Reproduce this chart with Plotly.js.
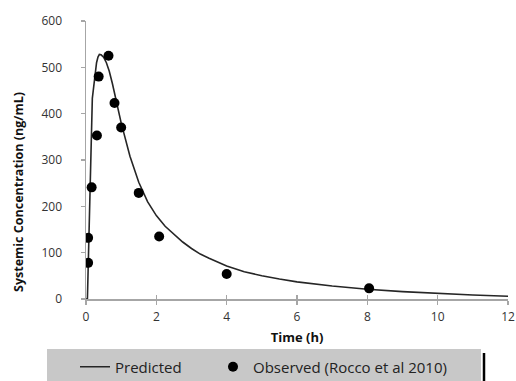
<!DOCTYPE html>
<html>
<head>
<meta charset="utf-8">
<script src="https://cdn.plot.ly/plotly-3.0.1.min.js"></script>
<style>html,body{margin:0;padding:0;background:#fff;}#chart{width:516px;height:381px;}</style>
</head>
<body>
<div id="chart"></div>
<script>
// Predicted concentration-time profile
const predTime = [0, 0.04, 0.18, 0.22, 0.26, 0.3, 0.34, 0.38, 0.43, 0.5, 0.58, 0.66, 0.75, 0.85, 1.0, 1.25, 1.5, 1.75, 2.0, 2.25, 2.5, 2.75, 3.0, 3.25, 3.5, 3.75, 4.0, 4.5, 5.0, 5.5, 6.0, 7.0, 8.0, 9.0, 10.0, 11.0, 12.0];
const predConc = [0, 0, 433, 460, 487, 510, 522, 528, 527, 522, 510, 492, 465, 430, 380, 308, 252, 210, 180, 157, 139, 123, 109, 97, 88, 79, 71, 59, 50, 43, 37, 28, 21, 16, 12, 8.5, 6];
// Observed (Rocco et al 2010)
const obsTime = [0.06, 0.06, 0.16, 0.31, 0.36, 0.64, 0.81, 1.0, 1.5, 2.08, 4.0, 8.05];
const obsConc = [78, 132, 241, 353, 480, 525, 423, 370, 229, 135, 54, 23];

const xTicks = [0, 2, 4, 6, 8, 10, 12];
const yTicks = [0, 100, 200, 300, 400, 500, 600];
const seriesNames = ['Predicted', 'Observed (Rocco et al 2010)'];
const xTitle = 'Time (h)';
const yTitle = 'Systemic Concentration (ng/mL)';

const FONT = 'Open Sans, Lato, sans-serif';
const axisColor = '#a6a6a6';

const traces = [
  {x: predTime, y: predConc, name: seriesNames[0], type: 'scatter', mode: 'lines',
   line: {color: '#262626', width: 1.6}, legend: 'legend'},
  {x: obsTime, y: obsConc, name: seriesNames[1], type: 'scatter', mode: 'markers',
   marker: {color: '#000', size: 10, symbol: 'circle'}, legend: 'legend2'},
  {x: [0], y: [0], xaxis: 'x2', yaxis: 'y', mode: 'markers', marker: {opacity: 0}, showlegend: false, hoverinfo: 'skip'}
];

const legendBase = {
  orientation: 'h', xref: 'container', yref: 'container',
  xanchor: 'left', y: 1 - 367 / 381, yanchor: 'middle',
  bgcolor: 'rgba(0,0,0,0)', borderwidth: 0,
  font: {family: FONT, size: 15, color: '#222'}
};

const layout = {
  width: 516, height: 381,
  margin: {l: 86, r: 8, t: 21, b: 82},
  paper_bgcolor: '#fff', plot_bgcolor: '#fff',
  font: {family: FONT, size: 12, color: '#333'},
  showlegend: true,
  xaxis: {
    range: [0, 12], tickvals: xTicks, ticktext: xTicks.map(String),
    showgrid: false, zeroline: false, showline: true, linecolor: axisColor, linewidth: 1.5,
    ticks: 'outside', ticklen: 4, tickcolor: axisColor, tickwidth: 1.5,
    tickfont: {family: FONT, size: 12, color: '#333'},
    ticklabelstandoff: 2,
    title: {text: '<b>' + xTitle + '</b>', font: {family: FONT, size: 13, color: '#111'}, standoff: 9}
  },
  xaxis2: {
    range: [0, 12], overlaying: 'x', tickvals: xTicks, showticklabels: false,
    showgrid: false, zeroline: false, showline: false,
    ticks: 'inside', ticklen: 4, tickcolor: axisColor, tickwidth: 1.5
  },
  yaxis: {
    range: [0, 600], tickvals: yTicks, ticktext: yTicks.map(String),
    showgrid: false, zeroline: false, showline: true, linecolor: axisColor, linewidth: 1.5,
    ticks: 'outside', ticklen: 4, tickcolor: axisColor, tickwidth: 1.5,
    tickfont: {family: FONT, size: 12, color: '#333'},
    ticklabelstandoff: 16
  },
  annotations: [
    {text: '<b>' + yTitle + '</b>', xref: 'paper', yref: 'paper',
     x: (18 - 86) / 422, y: (299 - 192) / 278, xanchor: 'center', yanchor: 'middle',
     textangle: -90, showarrow: false, font: {family: FONT, size: 12.5, color: '#111'}}
  ],
  shapes: [
    {type: 'rect', xref: 'paper', yref: 'paper', x0: (47 - 86) / 422, x1: (481 - 86) / 422,
     y0: (299 - 385) / 278, y1: (299 - 349) / 278, fillcolor: '#c8c8c8', line: {width: 0}, layer: 'below'},
    {type: 'line', xref: 'paper', yref: 'paper', x0: (484 - 86) / 422, x1: (484 - 86) / 422,
     y0: (299 - 353) / 278, y1: (299 - 385) / 278, line: {color: '#000', width: 2.5}}
  ],
  legend: Object.assign({}, legendBase, {x: 75 / 516}),
  legend2: Object.assign({}, legendBase, {x: 213 / 516})
};

Plotly.newPlot('chart', traces, layout, {displayModeBar: false, staticPlot: true});
</script>
</body>
</html>
